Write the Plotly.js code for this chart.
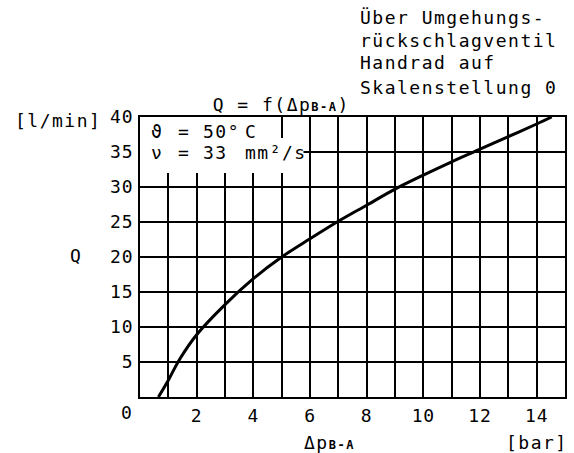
<!DOCTYPE html>
<html>
<head>
<meta charset="utf-8">
<script src="https://cdn.plot.ly/plotly-3.0.1.min.js"></script>
<style>
html,body{margin:0;padding:0;background:#fff;}
#chart{width:574px;height:453px;}
text.annotation-text{letter-spacing:1.5px;}
.xtick text,.ytick text{letter-spacing:0.8px;}
text.gtitle{letter-spacing:1.5px;}
</style>
</head>
<body>
<div id="chart"></div>
<script>
// Δp B-A [bar]
const dp = [0.65, 1.0, 1.4, 2.0, 3.0, 4.0, 5.0, 6.0, 7.0, 8.0, 9.0, 10.0, 11.0, 12.0, 13.0, 14.0, 14.53];
// Q [l/min]
const Q  = [0, 2.4, 5.4, 8.9, 13.2, 16.9, 20.0, 22.6, 25.1, 27.4, 29.7, 31.7, 33.6, 35.4, 37.2, 39.0, 40.0];

const xTickVals = [2, 4, 6, 8, 10, 12, 14];
const xTickText = ['2', '4', '6', '8', '10', '12', '14'];
const yTickVals = [5, 10, 15, 20, 25, 30, 35, 40];
const yTickText = ['5', '10', '15', '20', '25', '30', '35', '40'];

const noteLines = ['Über Umgehungs-', 'rückschlagventil', 'Handrad auf', 'Skalenstellung 0'];

const FONT = '"DejaVu Sans Mono", monospace';
const ink = '#000';
const SUB = '<span style="font-size:12px;font-weight:bold">B-A</span>';

const trace = {
  x: dp, y: Q, type: 'scatter', mode: 'lines',
  line: {color: ink, width: 3, shape: 'spline', smoothing: 1},
  hoverinfo: 'skip', showlegend: false
};

function note(text, x, y, xanchor, ref) {
  const a = {text: text, x: x, y: y, xanchor: xanchor, yanchor: 'middle', showarrow: false,
             font: {family: FONT, size: 18, color: ink}};
  if (ref === 'paper') { a.xref = 'paper'; a.yref = 'paper'; }
  return a;
}

const annotations = [
  note('[l/min]', -0.088, 0.989, 'right', 'paper'),
  note('Q', -0.151, 0.507, 'center', 'paper'),
  note('0', -0.031, -0.057, 'center', 'paper'),
  note('Δp' + SUB, 0.445, -0.161, 'center', 'paper'),
  note('[bar]', 1.012, -0.161, 'right', 'paper'),
  // box text
  note('ϑ', 0.32, 38.0, 'left'),
  note('=', 1.27, 38.0, 'left'),
  note('50°', 2.15, 38.0, 'left'),
  note('C', 3.64, 38.0, 'left'),
  note('ν', 0.32, 34.9, 'left'),
  note('=', 1.27, 34.9, 'left'),
  note('33', 2.15, 34.9, 'left'),
  note('mm²/s', 3.64, 34.9, 'left')
];
const noteY = [1.357, 1.275, 1.193, 1.107];
noteLines.forEach((t, i) => annotations.push(note(t, 0.513, noteY[i], 'left', 'paper')));

const layout = {
  width: 574, height: 453,
  margin: {l: 140, r: 9, t: 117, b: 56, pad: 0},
  paper_bgcolor: '#fff', plot_bgcolor: '#fff',
  font: {family: FONT, size: 18, color: ink},
  title: {text: 'Q = f(Δp' + SUB + ')', xref: 'container', yref: 'container',
          x: 0.49, y: 0.768, xanchor: 'center', yanchor: 'middle',
          font: {family: FONT, size: 18, color: ink}},
  xaxis: {
    range: [0, 15], tickvals: xTickVals, ticktext: xTickText, ticks: '',
    showgrid: true, gridcolor: ink, gridwidth: 2,
    minor: {tick0: 0, dtick: 1, showgrid: true, gridcolor: ink, gridwidth: 2},
    showline: true, mirror: true, linecolor: ink, linewidth: 2, zeroline: false,
    ticklabelstandoff: 1, tickfont: {family: FONT, size: 18, color: ink}, fixedrange: true
  },
  yaxis: {
    range: [0, 40], tickvals: yTickVals, ticktext: yTickText, ticks: '',
    showgrid: true, gridcolor: ink, gridwidth: 2,
    showline: true, mirror: true, linecolor: ink, linewidth: 2, zeroline: false,
    ticklabelstandoff: 1, tickfont: {family: FONT, size: 18, color: ink}, fixedrange: true
  },
  shapes: [
    {type: 'rect', xref: 'x', yref: 'y', x0: 0, x1: 4.87, y0: 37, y1: 40, fillcolor: '#fff', line: {width: 0}, layer: 'between'},
    {type: 'rect', xref: 'x', yref: 'y', x0: 0, x1: 5.77, y0: 32, y1: 37, fillcolor: '#fff', line: {width: 0}, layer: 'between'}
  ],
  annotations: annotations,
  showlegend: false
};

Plotly.newPlot('chart', [trace], layout, {displayModeBar: false, staticPlot: true});
</script>
</body>
</html>
